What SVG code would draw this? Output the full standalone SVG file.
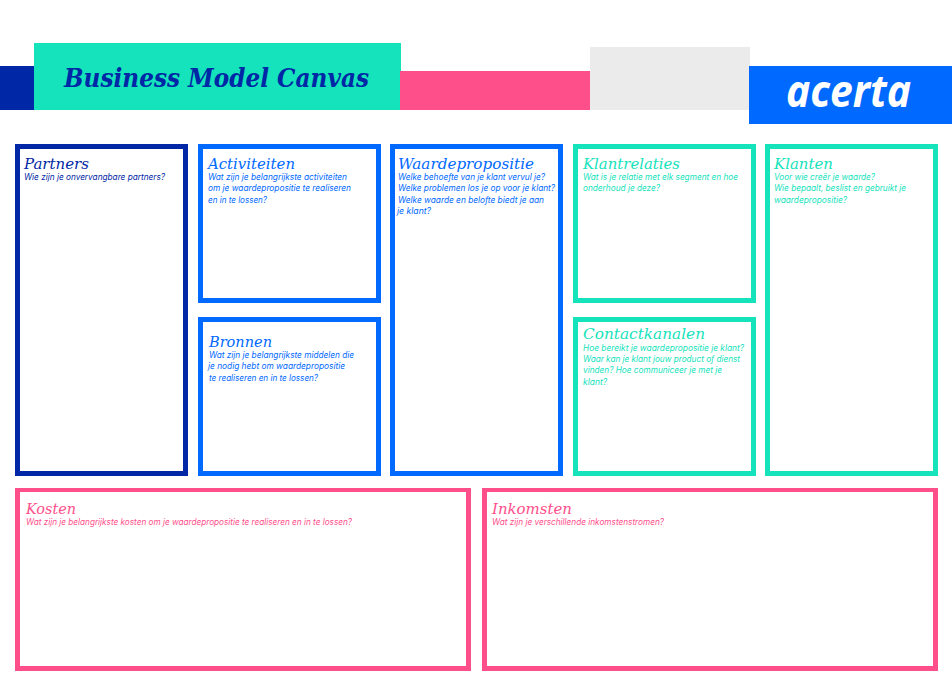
<svg xmlns="http://www.w3.org/2000/svg" width="952" height="700" viewBox="0 0 952 700">
<style>
.h{font-family:"DejaVu Serif",serif;font-style:italic;font-size:15.5px}
.b{font-family:"Inter","Open Sans",sans-serif;font-style:italic;font-size:8.5px}
.box{fill:#fff;stroke-width:5}
</style>
<rect width="952" height="700" fill="#fff"/>
<g id="header">
<rect x="0" y="66" width="35" height="44" fill="#0027a5"/>
<rect x="34" y="43" width="367" height="67" fill="#14e3bc"/>
<rect x="400" y="71" width="190" height="39" fill="#ff4f8b"/>
<rect x="590" y="47" width="160" height="63" fill="#ebebeb"/>
<rect x="749" y="66" width="203" height="58" fill="#0069ff"/>
<text x="64" y="87" textLength="305" lengthAdjust="spacingAndGlyphs" font-family="DejaVu Serif, serif" font-style="italic" font-weight="700" font-size="26" fill="#0027a5">Business Model Canvas</text>
<text x="786" y="107" textLength="125" lengthAdjust="spacingAndGlyphs" font-family="Noto Sans, sans-serif" font-style="italic" font-weight="700" font-size="44" fill="#fff">acerta</text>
</g>
<g id="partners">
<rect class="box" x="17.5" y="146.5" width="168" height="327" style="stroke:#0027a5"/>
<text class="h" x="24" y="169" textLength="65" lengthAdjust="spacingAndGlyphs" fill="#0027a5">Partners</text>
<text class="b" x="24" y="180" textLength="141" lengthAdjust="spacingAndGlyphs" fill="#0027a5">Wie zijn je onvervangbare partners?</text>
</g>
<g id="activiteiten">
<rect class="box" x="200.5" y="146.5" width="178" height="154" style="stroke:#0069ff"/>
<text class="h" x="208" y="169" textLength="87" lengthAdjust="spacingAndGlyphs" fill="#0069ff">Activiteiten</text>
<text class="b" x="208" y="180" textLength="139" lengthAdjust="spacingAndGlyphs" fill="#0069ff">Wat zijn je belangrijkste activiteiten</text>
<text class="b" x="208" y="191" textLength="143" lengthAdjust="spacingAndGlyphs" fill="#0069ff">om je waardepropositie te realiseren</text>
<text class="b" x="208" y="203" textLength="59" lengthAdjust="spacingAndGlyphs" fill="#0069ff">en in te lossen?</text>
</g>
<g id="bronnen">
<rect class="box" x="200.5" y="319.5" width="178" height="154" style="stroke:#0069ff"/>
<text class="h" x="209" y="347" textLength="63" lengthAdjust="spacingAndGlyphs" fill="#0069ff">Bronnen</text>
<text class="b" x="209" y="358" textLength="145" lengthAdjust="spacingAndGlyphs" fill="#0069ff">Wat zijn je belangrijkste middelen die</text>
<text class="b" x="208" y="369" textLength="137" lengthAdjust="spacingAndGlyphs" fill="#0069ff">je nodig hebt om waardepropositie</text>
<text class="b" x="209" y="381" textLength="109" lengthAdjust="spacingAndGlyphs" fill="#0069ff">te realiseren en in te lossen?</text>
</g>
<g id="waardepropositie">
<rect class="box" x="392.5" y="146.5" width="168" height="327" style="stroke:#0069ff"/>
<text class="h" x="398" y="169" textLength="136" lengthAdjust="spacingAndGlyphs" fill="#0069ff">Waardepropositie</text>
<text class="b" x="398" y="180" textLength="147" lengthAdjust="spacingAndGlyphs" fill="#0069ff">Welke behoefte van je klant vervul je?</text>
<text class="b" x="398" y="191" textLength="157" lengthAdjust="spacingAndGlyphs" fill="#0069ff">Welke problemen los je op voor je klant?</text>
<text class="b" x="398" y="203" textLength="146" lengthAdjust="spacingAndGlyphs" fill="#0069ff">Welke waarde en belofte biedt je aan</text>
<text class="b" x="397" y="214" textLength="34" lengthAdjust="spacingAndGlyphs" fill="#0069ff">je klant?</text>
</g>
<g id="klantrelaties">
<rect class="box" x="575.5" y="146.5" width="178" height="154" style="stroke:#14e3bc"/>
<text class="h" x="583" y="169" textLength="97" lengthAdjust="spacingAndGlyphs" fill="#14e3bc">Klantrelaties</text>
<text class="b" x="583" y="180" textLength="155" lengthAdjust="spacingAndGlyphs" fill="#14e3bc">Wat is je relatie met elk segment en hoe</text>
<text class="b" x="583" y="191" textLength="77" lengthAdjust="spacingAndGlyphs" fill="#14e3bc">onderhoud je deze?</text>
</g>
<g id="contactkanalen">
<rect class="box" x="575.5" y="319.5" width="178" height="154" style="stroke:#14e3bc"/>
<text class="h" x="583" y="339" textLength="122" lengthAdjust="spacingAndGlyphs" fill="#14e3bc">Contactkanalen</text>
<text class="b" x="583" y="351" textLength="161" lengthAdjust="spacingAndGlyphs" fill="#14e3bc">Hoe bereikt je waardepropositie je klant?</text>
<text class="b" x="583" y="362" textLength="157" lengthAdjust="spacingAndGlyphs" fill="#14e3bc">Waar kan je klant jouw product of dienst</text>
<text class="b" x="583" y="373" textLength="139" lengthAdjust="spacingAndGlyphs" fill="#14e3bc">vinden? Hoe communiceer je met je</text>
<text class="b" x="583" y="385" textLength="24" lengthAdjust="spacingAndGlyphs" fill="#14e3bc">klant?</text>
</g>
<g id="klanten">
<rect class="box" x="767.5" y="146.5" width="168" height="327" style="stroke:#14e3bc"/>
<text class="h" x="774" y="169" textLength="59" lengthAdjust="spacingAndGlyphs" fill="#14e3bc">Klanten</text>
<text class="b" x="774" y="180" textLength="101" lengthAdjust="spacingAndGlyphs" fill="#14e3bc">Voor wie creër je waarde?</text>
<text class="b" x="774" y="191" textLength="132" lengthAdjust="spacingAndGlyphs" fill="#14e3bc">Wie bepaalt, beslist en gebruikt je</text>
<text class="b" x="774" y="203" textLength="73" lengthAdjust="spacingAndGlyphs" fill="#14e3bc">waardepropositie?</text>
</g>
<g id="kosten">
<path fill="#ff4f8b" fill-rule="evenodd" d="M15 488H471V671H15ZM20 492V666H466V492Z"/>
<text class="h" x="26" y="514" textLength="50" lengthAdjust="spacingAndGlyphs" fill="#ff4f8b">Kosten</text>
<text class="b" x="26" y="525" textLength="326" lengthAdjust="spacingAndGlyphs" fill="#ff4f8b">Wat zijn je belangrijkste kosten om je waardepropositie te realiseren en in te lossen?</text>
</g>
<g id="inkomsten">
<path fill="#ff4f8b" fill-rule="evenodd" d="M482 488H938V671H482ZM487 492V666H933V492Z"/>
<text class="h" x="492" y="514" textLength="80" lengthAdjust="spacingAndGlyphs" fill="#ff4f8b">Inkomsten</text>
<text class="b" x="492" y="525" textLength="172" lengthAdjust="spacingAndGlyphs" fill="#ff4f8b">Wat zijn je verschillende inkomstenstromen?</text>
</g>
<g id="connectors"></g>
</svg>
